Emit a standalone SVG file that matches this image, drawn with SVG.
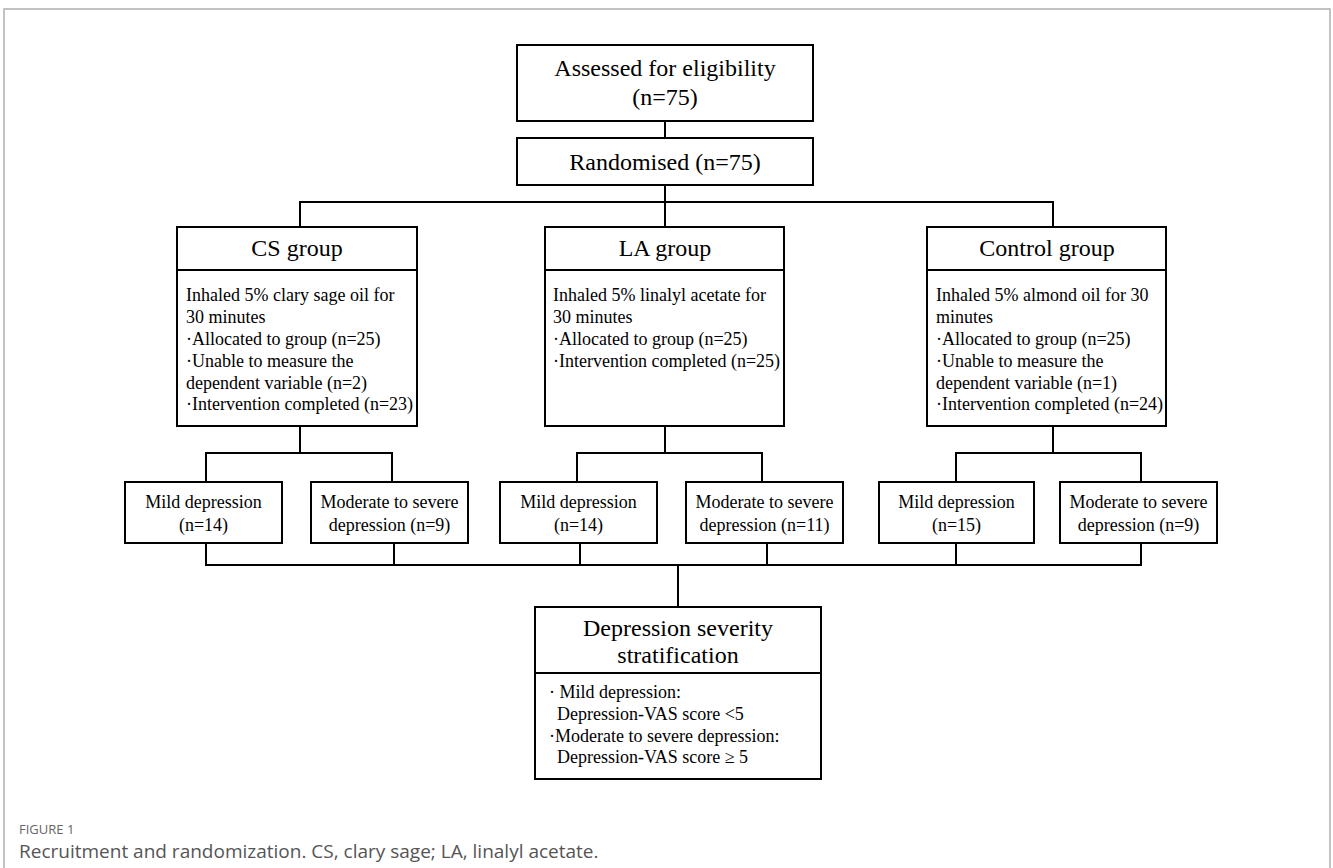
<svg xmlns="http://www.w3.org/2000/svg" width="1333" height="868" viewBox="0 0 1333 868">
<style>
.box{fill:#fff;stroke:#000;stroke-width:2}
.ln{fill:none;stroke:#000;stroke-width:2}
.t24{font-family:"Liberation Serif","Times New Roman",serif;font-size:24px;fill:#000;text-anchor:middle}
.t18{font-family:"Liberation Serif","Times New Roman",serif;font-size:18px;fill:#000}
.c18{font-family:"Liberation Serif","Times New Roman",serif;font-size:18px;fill:#000;text-anchor:middle}
.cap1{font-family:"Open Sans","Noto Sans",sans-serif;font-size:13px;fill:#666}
.cap2{font-family:"Open Sans","Noto Sans",sans-serif;font-size:19px;fill:#555}
</style>
<rect width="1333" height="868" fill="#fff"/>
<path d="M4,868 V9 H1330 V868" fill="none" stroke="#b0b0b0" stroke-width="1.5"/>

<g id="connectors">
<path class="ln" d="M665,121 V138"/>
<path class="ln" d="M665,185 V227"/>
<path class="ln" d="M300,227 V202 H1053 V227"/>
<path class="ln" d="M300,426 V453"/>
<path class="ln" d="M206,482 V453 H392 V482"/>
<path class="ln" d="M665,426 V453"/>
<path class="ln" d="M577,482 V453 H762 V482"/>
<path class="ln" d="M1053,426 V453"/>
<path class="ln" d="M956,482 V453 H1141 V482"/>
<path class="ln" d="M206,543 V565 H1141 V543"/>
<path class="ln" d="M394,543 V565"/>
<path class="ln" d="M580,543 V565"/>
<path class="ln" d="M767,543 V565"/>
<path class="ln" d="M956,543 V565"/>
<path class="ln" d="M678,565 V607"/>
</g>

<g id="assessed">
<rect class="box" x="517" y="45" width="296" height="76"/>
<text class="t24" x="665" y="76">Assessed for eligibility</text>
<text class="t24" x="665" y="105">(n=75)</text>
</g>

<g id="randomised">
<rect class="box" x="517" y="138" width="296" height="47"/>
<text class="t24" x="665" y="170">Randomised (n=75)</text>
</g>

<g id="cs-group">
<rect class="box" x="177" y="227" width="240" height="199"/>
<path class="ln" d="M177,270 H417"/>
<text class="t24" x="297" y="256">CS group</text>
<text class="t18" x="186" y="301">Inhaled 5% clary sage oil for</text>
<text class="t18" x="186" y="323">30 minutes</text>
<text class="t18" x="186" y="345">·Allocated to group (n=25)</text>
<text class="t18" x="186" y="367">·Unable to measure the</text>
<text class="t18" x="186" y="389">dependent variable (n=2)</text>
<text class="t18" x="186" y="410">·Intervention completed (n=23)</text>
</g>

<g id="la-group">
<rect class="box" x="545" y="227" width="239" height="199"/>
<path class="ln" d="M545,270 H784"/>
<text class="t24" x="665" y="256">LA group</text>
<text class="t18" x="553" y="301">Inhaled 5% linalyl acetate for</text>
<text class="t18" x="553" y="323">30 minutes</text>
<text class="t18" x="553" y="345">·Allocated to group (n=25)</text>
<text class="t18" x="553" y="367">·Intervention completed (n=25)</text>
</g>

<g id="control-group">
<rect class="box" x="927" y="227" width="239" height="199"/>
<path class="ln" d="M927,270 H1166"/>
<text class="t24" x="1047" y="256">Control group</text>
<text class="t18" x="936" y="301">Inhaled 5% almond oil for 30</text>
<text class="t18" x="936" y="323">minutes</text>
<text class="t18" x="936" y="345">·Allocated to group (n=25)</text>
<text class="t18" x="936" y="367">·Unable to measure the</text>
<text class="t18" x="936" y="389">dependent variable (n=1)</text>
<text class="t18" x="936" y="410">·Intervention completed (n=24)</text>
</g>

<g id="cs-mild">
<rect class="box" x="125" y="482" width="157" height="61"/>
<text class="c18" x="203.5" y="508">Mild depression</text>
<text class="c18" x="203.5" y="531">(n=14)</text>
</g>
<g id="cs-moderate">
<rect class="box" x="311" y="482" width="157" height="61"/>
<text class="c18" x="389.5" y="508">Moderate to severe</text>
<text class="c18" x="389.5" y="531">depression (n=9)</text>
</g>
<g id="la-mild">
<rect class="box" x="500" y="482" width="157" height="61"/>
<text class="c18" x="578.5" y="508">Mild depression</text>
<text class="c18" x="578.5" y="531">(n=14)</text>
</g>
<g id="la-moderate">
<rect class="box" x="686" y="482" width="157" height="61"/>
<text class="c18" x="764.5" y="508">Moderate to severe</text>
<text class="c18" x="764.5" y="531">depression (n=11)</text>
</g>
<g id="control-mild">
<rect class="box" x="879" y="482" width="155" height="61"/>
<text class="c18" x="956.5" y="508">Mild depression</text>
<text class="c18" x="956.5" y="531">(n=15)</text>
</g>
<g id="control-moderate">
<rect class="box" x="1060" y="482" width="157" height="61"/>
<text class="c18" x="1138.5" y="508">Moderate to severe</text>
<text class="c18" x="1138.5" y="531">depression (n=9)</text>
</g>

<g id="stratification">
<rect class="box" x="535" y="607" width="286" height="172"/>
<path class="ln" d="M535,673 H821"/>
<text class="t24" x="678" y="636">Depression severity</text>
<text class="t24" x="678" y="663">stratification</text>
<text class="t18" x="549" y="698">· Mild depression:</text>
<text class="t18" x="557" y="720">Depression-VAS score &lt;5</text>
<text class="t18" x="549" y="742">·Moderate to severe depression:</text>
<text class="t18" x="557" y="763">Depression-VAS score ≥ 5</text>
</g>

<g id="caption">
<text class="cap1" x="19" y="834">FIGURE 1</text>
<text class="cap2" x="19" y="858">Recruitment and randomization. CS, clary sage; LA, linalyl acetate.</text>
</g>
</svg>
